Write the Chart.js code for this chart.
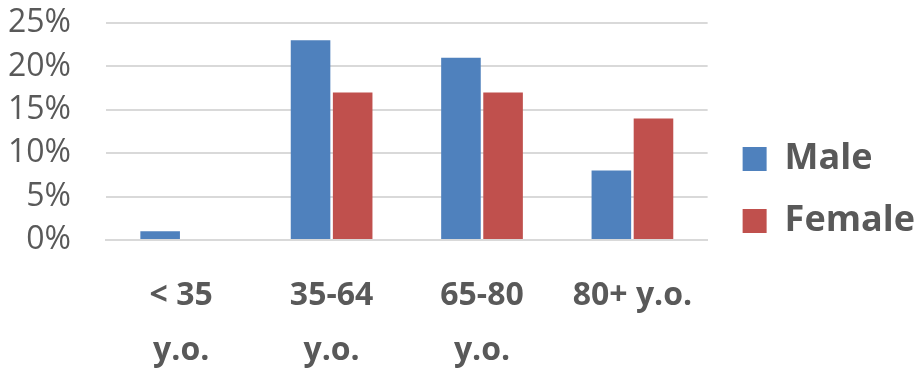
<!DOCTYPE html>
<html>
<head>
<meta charset="utf-8">
<script src="https://cdn.jsdelivr.net/npm/chart.js@4/dist/chart.umd.min.js"></script>
<style>
  html, body { margin: 0; padding: 0; background: #ffffff; }
  #wrap { width: 914px; height: 371px; position: relative; }
</style>
</head>
<body>
<div id="wrap"><canvas id="chart" width="914" height="371"></canvas></div>
<script>
// Age groups (two-line labels where the text wraps)
const categories = [["< 35", "y.o."], ["35-64", "y.o."], ["65-80", "y.o."], "80+ y.o."];
// Share of each group, in percent
const maleValues = [1, 23, 21, 8];
const femaleValues = [0, 17, 17, 14];
const yTicks = [0, 5, 10, 15, 20, 25];

const textColor = "#595959";
const fontFamily = "'Open Sans', 'DejaVu Sans', sans-serif";

// Nudges the legend: a little more room from the plot, and slightly higher
const legendGap = {
  id: "legendGap",
  afterLayout(chart) {
    const lg = chart.legend;
    if (!lg) return;
    lg.left += 9;
    lg.right += 9;
    lg.top -= 7;
    lg.bottom -= 7;
  }
};

new Chart(document.getElementById("chart"), {
  type: "bar",
  data: {
    labels: categories,
    datasets: [
      { label: "Male", data: maleValues, backgroundColor: "#4F81BD",
        categoryPercentage: 0.56, barPercentage: 0.94 },
      { label: "Female", data: femaleValues, backgroundColor: "#C0504D",
        categoryPercentage: 0.56, barPercentage: 0.94 }
    ]
  },
  plugins: [legendGap],
  options: {
    responsive: false,
    animation: false,
    layout: { padding: { top: 23, right: -2, left: 0, bottom: 0 } },
    plugins: {
      tooltip: { enabled: false },
      legend: {
        position: "right",
        align: "center",
        labels: {
          boxWidth: 24,
          boxHeight: 24,
          padding: 26,
          color: textColor,
          font: { family: fontFamily, size: 36, weight: "bold" }
        }
      }
    },
    scales: {
      x: {
        afterFit: (axis) => { axis.height = 131; },
        grid: { display: false, drawTicks: false },
        border: { display: true, color: "#D9D9D9", width: 2 },
        ticks: {
          color: textColor,
          padding: 29,
          maxRotation: 0,
          autoSkip: false,
          font: { family: fontFamily, size: 32, weight: "bold", lineHeight: 1.7 }
        }
      },
      y: {
        min: 0,
        max: 25,
        afterFit: (axis) => { axis.width = 106; },
        afterBuildTicks: (axis) => { axis.ticks = yTicks.map(v => ({ value: v })); },
        grid: { color: "#D9D9D9", lineWidth: 2, drawTicks: true, tickLength: 35, tickColor: "rgba(0,0,0,0)" },
        border: { display: false },
        ticks: {
          color: textColor,
          padding: 0,
          autoSkip: false,
          font: { family: fontFamily, size: 32 },
          callback: (v) => v + "%"
        }
      }
    }
  }
});
</script>
</body>
</html>
